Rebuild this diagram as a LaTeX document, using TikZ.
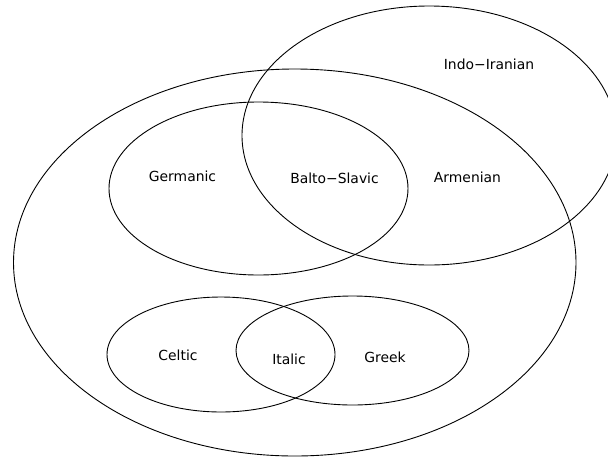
\documentclass[tikz,border=0pt]{standalone}
\usepackage{fontspec}
\setmainfont{DejaVu Sans}
\begin{document}
\begin{tikzpicture}[x=1pt,y=-1pt,
  ring/.style={draw=black,line width=0.9pt},
  lbl/.style={inner sep=0pt,font=\fontsize{13.9}{16}\selectfont}]
\useasboundingbox (0,0) rectangle (608,459);
\clip (0,0) rectangle (608,459);
\draw[ring] (294.75,262.5) ellipse [x radius=281.25, y radius=193.5];
\draw[ring] (429.2,135.5) ellipse [x radius=187.2, y radius=129.5];
\draw[ring] (258.5,188.5) ellipse [x radius=149.5, y radius=86.5];
\draw[ring] (221,354.5) ellipse [x radius=114, y radius=57.5];
\draw[ring] (352.5,350.5) ellipse [x radius=116.5, y radius=54.5];
\node[lbl] (ii) at (489,64) {Indo−Iranian};
\node[lbl] (ge) at (182.5,176) {Germanic};
\node[lbl] (bs) at (334.5,178) {Balto−Slavic};
\node[lbl] (ar) at (467.5,177) {Armenian};
\node[lbl] (ce) at (178,355) {Celtic};
\node[lbl] (it) at (289,359) {Italic};
\node[lbl] (gr) at (385,357) {Greek};
\end{tikzpicture}
\end{document}
